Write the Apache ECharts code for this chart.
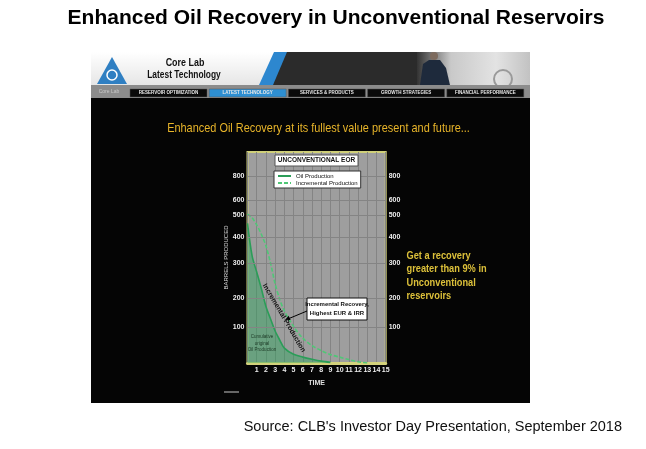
<!DOCTYPE html>
<html>
<head>
<meta charset="utf-8">
<script src="https://cdn.jsdelivr.net/npm/echarts@6/dist/echarts.min.js"></script>
<style>
  html, body { margin: 0; padding: 0; background: #fff; }
  #eor_chart { width: 646px; height: 449px; }
</style>
</head>
<body>
<div id="eor_chart"></div>
<script>
// time steps along the x axis (years)
const timeSteps = [0, 0.5, 1, 1.5, 2, 2.5, 3, 3.5, 4, 5, 6, 7, 8, 9, 10, 11, 12, 13];
// barrels produced
const oilProduction = [450, 345, 293, 240, 182, 142, 103, 74, 48, 28, 19, 12, 6, 2, null, null, null, null];
const incrementalProduction = [480, 468, 445, 415, 378, 322, 255, 205, 168, 118, 80, 56, 40, 27, 19, 11, 4, 0];
// the slide prints its y labels unevenly; each one sits at this level of the axis
const yTickValues = [116, 209, 322, 406, 477, 525, 603];
const yTickLabels = ['100', '200', '300', '400', '500', '600', '800'];
const navItems = ['RESERVOIR OPTIMIZATION', 'LATEST TECHNOLOGY', 'SERVICES & PRODUCTS', 'GROWTH STRATEGIES', 'FINANCIAL PERFORMANCE'];

function eor_chart(element) {
    const chartDom = document.getElementById(element);
    const myChart = echarts.init(chartDom);
    const font = 'Liberation Sans, Arial, sans-serif';

    function txt(x, y, text, style, extra) {
        return Object.assign({
            type: 'text', x: x, y: y, z: 10, silent: true,
            style: Object.assign({text: text, fontFamily: font, align: 'left', verticalAlign: 'middle', fill: '#000'}, style)
        }, extra || {});
    }

    const bg = [
        {type: 'rect', shape: {x: 91, y: 52, width: 439, height: 351}, style: {fill: '#050505'}},
        {type: 'polygon', shape: {points: [[91, 52], [285, 52], [271, 85], [91, 85]]},
            style: {fill: new echarts.graphic.LinearGradient(0, 0, 0, 1, [{offset: 0, color: '#ffffff'}, {offset: 1, color: '#e6e6e6'}])}},
        {type: 'polygon', shape: {points: [[286, 52], [530, 52], [530, 85], [272, 85]]}, style: {fill: '#2b2b2b'}},
        {type: 'polygon', shape: {points: [[274, 52], [287, 52], [273, 85], [259, 85]]}, style: {fill: '#2d87cf'}},
        {type: 'rect', shape: {x: 417, y: 52, width: 113, height: 33},
            style: {fill: new echarts.graphic.LinearGradient(0, 0, 1, 0, [
                {offset: 0, color: '#333333'}, {offset: 0.3, color: '#c9c9c9'},
                {offset: 0.7, color: '#e3e3e3'}, {offset: 1, color: '#c2c2c2'}])}},
        {type: 'circle', shape: {cx: 503, cy: 79, r: 9}, style: {fill: 'none', stroke: '#9a9a9a', lineWidth: 2}},
        {type: 'polygon', shape: {points: [[420, 85], [423, 64], [429, 60], [440, 60], [446, 68], [450, 85]]}, style: {fill: '#1e2a3c'}},
        {type: 'circle', shape: {cx: 434, cy: 56, r: 4}, style: {fill: '#7d6b5e'}},
        {type: 'rect', shape: {x: 91, y: 85, width: 439, height: 13}, style: {fill: '#8c8c8c'}},
        {type: 'polygon', shape: {points: [[112, 57], [127, 84], [97, 84]]}, style: {fill: '#2f7fc2'}},
        {type: 'circle', shape: {cx: 112, cy: 75, r: 5}, style: {fill: 'none', stroke: '#fff', lineWidth: 1.5}},
        {type: 'rect', shape: {x: 224, y: 391, width: 15, height: 2}, style: {fill: '#666'}}
    ];
    navItems.forEach(function (name, i) {
        const x0 = 130 + i * 79.2;
        bg.push({type: 'rect', shape: {x: x0, y: 89, width: 77, height: 8},
            style: {fill: i === 1 ? '#2e8fd2' : '#0a0a0a', stroke: '#555', lineWidth: 0.5}});
    });
    bg.forEach(function (el) { el.z = -10; el.silent = true; });

    const texts = [
        txt(336, 18, 'Enhanced Oil Recovery in Unconventional Reservoirs', {fontSize: 21, fontWeight: 'bold', align: 'center', fill: '#000'}),
        txt(622, 427, "Source: CLB's Investor Day Presentation, September 2018", {fontSize: 14.5, align: 'right', fill: '#111'}),
        txt(185, 63, 'Core Lab', {fontSize: 10.5, fontWeight: 'bold', align: 'center', fill: '#111'}, {scaleX: 0.85}),
        txt(184, 75, 'Latest Technology', {fontSize: 10.5, fontWeight: 'bold', align: 'center', fill: '#111'}, {scaleX: 0.8}),
        txt(109, 92, 'Core Lab', {fontSize: 5, align: 'center', fill: '#c8c8c8'}),
        txt(318.5, 128, 'Enhanced Oil Recovery at its fullest value present and future...', {fontSize: 13.5, align: 'center', fill: '#e8b52a'}, {scaleX: 0.81}),
        txt(406.5, 249, 'Get a recovery\ngreater than 9% in\nUnconventional\nreservoirs', {fontSize: 11, fontWeight: 'bold', fill: '#dcc03a', lineHeight: 13.4, verticalAlign: 'top'}, {scaleX: 0.84}),
        // chart call-outs
        {type: 'rect', z: 10, silent: true, shape: {x: 275, y: 155, width: 83, height: 11}, style: {fill: '#fff', stroke: '#555', lineWidth: 1}},
        txt(316.5, 160.5, 'UNCONVENTIONAL EOR', {fontSize: 6.5, fontWeight: 'bold', align: 'center', fill: '#111'}),
        {type: 'rect', z: 10, silent: true, shape: {x: 307, y: 298, width: 60, height: 22}, style: {fill: '#fff', stroke: '#111', lineWidth: 1}},
        txt(337, 304.5, 'Incremental Recovery,', {fontSize: 6, fontWeight: 'bold', align: 'center', fill: '#111'}),
        txt(337, 313.5, 'Highest EUR & IRR', {fontSize: 6, fontWeight: 'bold', align: 'center', fill: '#111'}),
        {type: 'line', z: 10, silent: true, shape: {x1: 307, y1: 311, x2: 289, y2: 318.5}, style: {stroke: '#000', lineWidth: 1}},
        {type: 'polygon', z: 10, silent: true, shape: {points: [[285, 320], [290.6, 320], [288.6, 315.8]]}, style: {fill: '#000'}},
        txt(284, 318, 'Incremental Production', {fontSize: 7, fontWeight: 'bold', align: 'center', fill: '#141414'}, {rotation: -1.04}),
        txt(262, 343.5, 'Cumulative\noriginal\nOil Production', {fontSize: 4.5, align: 'center', fill: '#1d3a26', lineHeight: 6.5})
    ];
    navItems.forEach(function (name, i) {
        texts.push(txt(130 + i * 79.2 + 38.5, 93, name, {fontSize: 4.5, fontWeight: 'bold', align: 'center', fill: '#e8e8e8'}));
    });

    const yAxisBase = {
        type: 'value', min: 0, max: 680,
        axisLine: {show: false}, axisTick: {show: false}, splitLine: {show: false},
        axisLabel: {
            customValues: yTickValues,
            formatter: function (v) { return yTickLabels[yTickValues.indexOf(v)]; },
            color: '#eeeeee', fontSize: 7, fontWeight: 'bold', margin: 3
        }
    };

    const option = {
        animation: false,
        backgroundColor: '#ffffff',
        textStyle: {fontFamily: font},
        graphic: {elements: bg.concat(texts)},
        grid: {
            left: 247.5, right: 260.3, top: 152, bottom: 86,
            show: true, backgroundColor: '#9e9e9e', borderColor: '#cfcf78', borderWidth: 2
        },
        legend: {
            data: ['Oil Production', 'Incremental Production'],
            orient: 'vertical', left: 274, top: 171, z: 20,
            backgroundColor: '#ffffff', borderColor: '#333', borderWidth: 1,
            padding: [2, 3, 2, 3], itemWidth: 13, itemHeight: 6, itemGap: 1,
            itemStyle: {opacity: 0},
            textStyle: {fontSize: 6, color: '#111'}
        },
        xAxis: {
            type: 'value', min: 0, max: 15, interval: 1,
            axisLine: {show: true, lineStyle: {color: '#d3d27c', width: 3}},
            axisTick: {show: false},
            splitLine: {show: true, lineStyle: {color: '#848484', width: 1}},
            axisLabel: {
                formatter: function (v) { return v === 0 ? '' : v; },
                color: '#eeeeee', fontSize: 7, fontWeight: 'bold', margin: 4
            },
            name: 'TIME', nameLocation: 'middle', nameGap: 17,
            nameTextStyle: {color: '#e0e0e0', fontSize: 7, fontWeight: 'bold'}
        },
        yAxis: [
            Object.assign({}, yAxisBase, {
                position: 'left', name: 'BARRELS PRODUCED', nameLocation: 'middle', nameGap: 17, nameRotate: 90,
                nameTextStyle: {color: '#d8d8d8', fontSize: 6}
            }),
            Object.assign({}, yAxisBase, {position: 'right'})
        ],
        series: [
            {
                name: 'Incremental Production', type: 'line', z: 1, smooth: 0.3, symbol: 'none',
                data: timeSteps.map(function (t, i) { return [t, incrementalProduction[i]]; }),
                lineStyle: {color: '#4fc776', type: [4, 2], width: 1.6},
                itemStyle: {color: '#4fc776'},
                markLine: {
                    silent: true, symbol: ['none', 'none'], label: {show: false},
                    lineStyle: {color: '#848484', type: 'solid', width: 1},
                    data: yTickValues.map(function (v) { return {yAxis: v}; })
                }
            },
            {
                name: 'Oil Production', type: 'line', z: 2, smooth: 0.3, symbol: 'none',
                data: timeSteps.map(function (t, i) { return [t, oilProduction[i]]; }),
                lineStyle: {color: '#2b9d58', width: 1.6},
                itemStyle: {color: '#2b9d58'},
                areaStyle: {color: 'rgba(40,165,90,0.62)'}
            }
        ]
    };

    option && myChart.setOption(option);
    window.addEventListener('resize', function () {
        if (myChart != null) {
            myChart.resize();
        }
    });
}

eor_chart('eor_chart');
</script>
</body>
</html>
